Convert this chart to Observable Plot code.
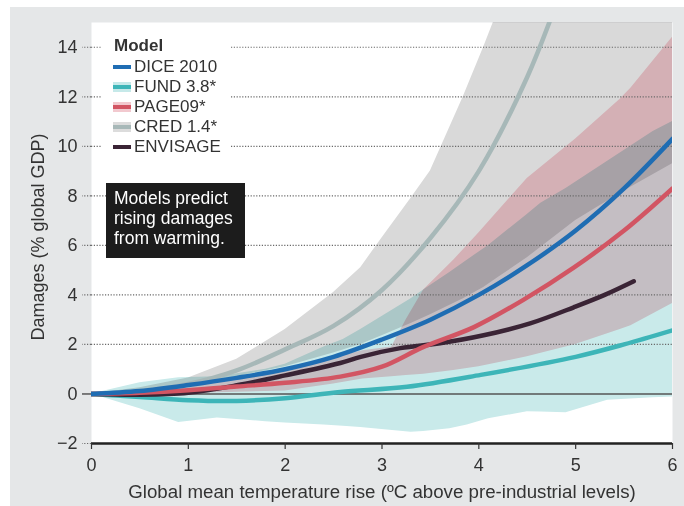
<!DOCTYPE html>
<html>
<head>
<meta charset="utf-8">
<script src="https://cdn.jsdelivr.net/npm/d3@7"></script>
<script src="https://cdn.jsdelivr.net/npm/@observablehq/plot@0.6"></script>
<style>
  html, body { margin: 0; padding: 0; background: #fff; }
  body { font-family: "Liberation Sans", Arial, sans-serif; color: #333; }
  #wrap { position: relative; width: 684px; height: 506px; overflow: hidden; }
  #bg { position: absolute; left: 10px; top: 7px; right: 0; bottom: 0; background: #e5e7e8; }
  #chart { position: absolute; left: 0; top: 0; }
  #legend { position: absolute; left: 102px; top: 33px; width: 129px; height: 127px; background: #fff; }
  .row { position: absolute; left: 0; height: 20px; line-height: 20px; font-size: 17px; white-space: nowrap; color: #333; }
  .row .lbl { position: absolute; left: 32px; top: 0; }
  .sw { position: absolute; left: 11px; top: 5px; width: 18px; height: 10px; }
  .sw .ln { position: absolute; left: 0; top: 3px; width: 18px; height: 4px; }
  #note { position: absolute; left: 106px; top: 183px; width: 139px; height: 75px; background: #1c1c1c;
          color: #fff; font-size: 17.5px; line-height: 20px; box-sizing: border-box; padding: 5px 0 0 8px; }
  #ylab { position: absolute; left: 38px; top: 237px; transform: translate(-50%, -50%) rotate(-90deg);
          font-size: 18px; white-space: nowrap; color: #333; }
  #xlab { position: absolute; left: 382px; top: 481px; transform: translateX(-50%);
          font-size: 18.7px; white-space: nowrap; color: #333; }
  svg g[aria-label="area"] { mix-blend-mode: multiply; }
</style>
</head>
<body>
<div id="wrap">
  <div id="bg"></div>
  <div id="chart"></div>
  <div id="legend"></div>
  <div id="note">Models predict<br>rising damages<br>from warming.</div>
  <div id="ylab">Damages (% global GDP)</div>
  <div id="xlab">Global mean temperature rise (ºC above pre-industrial levels)</div>
</div>
<script>
// ---- Data ----
const xTicks = [0, 1, 2, 3, 4, 5, 6];
const yTicksDotted = [-2, 2, 4, 6, 8, 10, 12, 14];
const gridTicks = [2, 4, 6, 8, 10, 12, 14];

// Uncertainty ranges
const credBandT  = [0, 0.5, 1, 1.5, 2, 2.5, 2.78, 3, 3.3, 3.5, 3.84, 4.05, 4.2, 4.5, 5, 5.5, 6];
const credBandLo = [0, 0.15, 0.35, 0.7, 1.1, 1.65, 2.0, 2.35, 2.85, 3.2, 3.85, 4.3, 4.7, 5.5, 7.0, 8.2, 9.3];
const credBandHi = [0, 0.25, 0.64, 1.4, 2.6, 4.1, 5.1, 6.3, 7.9, 9.0, 12, 14, 15.5, 18, 22, 26, 30];

const pageBandT  = [0, 1, 2, 2.5, 2.8, 3.1, 3.25, 3.43, 3.74, 4, 4.5, 5, 5.46, 5.57, 6];
const pageBandLo = [0, 0.02, 0.12, 0.4, 0.6, 0.7, 0.75, 0.8, 0.95, 1.1, 1.5, 2.0, 2.6, 2.75, 3.65];
const pageBandHi = [0, 0.3, 1.0, 1.45, 1.75, 1.9, 3.0, 4.2, 5.4, 6.5, 8.7, 10.3, 11.9, 12.35, 14.4];

const fundBandT  = [0, 0.5, 0.9, 1.3, 1.8, 2, 2.4, 2.6, 2.78, 3.3, 3.43, 3.7, 3.88, 4.1, 4.5, 4.64, 4.9, 5.33, 5.8, 6];
const fundBandLo = [0, -0.6, -1.15, -0.97, -1.12, -1.17, -1.25, -1.3, -1.35, -1.55, -1.52, -1.4, -1.25, -1.0, -0.72, -0.73, -0.76, -0.25, -0.15, -0.12];
const fundBandHi = [0, 0.45, 0.65, 0.7, 1.0, 1.2, 1.9, 2.2, 2.6, 3.85, 4.2, 4.9, 5.4, 6.0, 7.25, 7.7, 8.3, 9.4, 10.6, 11.0];

// Central estimates
const credT = [0, 0.5, 1, 1.5, 2, 2.5, 3, 3.5, 4, 4.5, 4.85];
const credV = [0, 0.1, 0.4, 0.95, 1.8, 2.75, 4.2, 6.3, 9.0, 12.8, 16.3];

const fundT = [0, 0.5, 1, 1.5, 2, 2.57, 3.26, 4.02, 5, 5.5, 6];
const fundV = [0, -0.12, -0.25, -0.28, -0.17, 0.08, 0.29, 0.77, 1.5, 2.0, 2.57];

const envT = [0, 0.5, 1, 1.5, 2, 2.57, 2.78, 3.19, 3.6, 4.05, 4.53, 4.98, 5.3, 5.6];
const envV = [0, -0.03, 0.05, 0.35, 0.75, 1.25, 1.5, 1.85, 2.05, 2.37, 2.85, 3.5, 4.0, 4.55];

const pageT = [0, 0.5, 1, 1.5, 2, 2.57, 3, 3.43, 3.95, 4.46, 4.98, 5.5, 6];
const pageV = [0, 0.05, 0.15, 0.3, 0.45, 0.7, 1.1, 1.9, 2.7, 3.8, 5.1, 6.6, 8.3];

const diceT = [0, 0.5, 1, 1.5, 2, 2.5, 3, 3.5, 4, 4.5, 5, 5.5, 6];
const diceV = [0, 0.12, 0.36, 0.65, 1.0, 1.5, 2.2, 3.0, 4.0, 5.2, 6.6, 8.3, 10.3];

const legendNames = ["DICE 2010", "FUND 3.8*", "PAGE09*", "CRED 1.4*", "ENVISAGE"];
const legendLine  = ["#1f6db3", "#3db5b8", "#d25563", "#a7b8b8", "#3a2435"];
const legendBand  = [null, "#c6e9e9", "#f2c9cf", "#dcdcdc", null];

const C = {dice: legendLine[0], fund: legendLine[1], page: legendLine[2], cred: legendLine[3], env: legendLine[4]};
const lineOpts = {strokeWidth: 4.5, strokeLinecap: "round", strokeLinejoin: "round", curve: "catmull-rom", clip: true};

const plot = Plot.plot({
  width: 684, height: 506,
  marginLeft: 91, marginRight: 12, marginTop: 22, marginBottom: 63,
  style: {background: "transparent", fontFamily: "'Liberation Sans', Arial, sans-serif", fontSize: "18px", color: "#333"},
  x: {domain: [0, 6]},
  y: {domain: [-2, 15]},
  marks: [
    Plot.frame({fill: "white", stroke: "none"}),
    Plot.areaY(credBandT, {x: credBandT, y1: credBandLo, y2: credBandHi, fill: "#d9d9d9", clip: true}),
    Plot.areaY(pageBandT, {x: pageBandT, y1: pageBandLo, y2: pageBandHi, fill: "#f9cfd5", clip: true}),
    Plot.areaY(fundBandT, {x: fundBandT, y1: fundBandLo, y2: fundBandHi, fill: "#c9eaea", clip: true}),
    Plot.ruleY(gridTicks, {stroke: "#6a6a6a", strokeDasharray: "1.2,1.6", strokeWidth: 1.2}),
    Plot.ruleY([0], {stroke: "#555", strokeWidth: 1.5}),
    Plot.line(credT, {x: credT, y: credV, stroke: C.cred, ...lineOpts}),
    Plot.line(fundT, {x: fundT, y: fundV, stroke: C.fund, ...lineOpts}),
    Plot.line(envT, {x: envT, y: envV, stroke: C.env, ...lineOpts}),
    Plot.line(pageT, {x: pageT, y: pageV, stroke: C.page, ...lineOpts}),
    Plot.line(diceT, {x: diceT, y: diceV, stroke: C.dice, ...lineOpts}),
    Plot.ruleY([-2], {stroke: "#222", strokeWidth: 2.5}),
    Plot.axisX({ticks: xTicks, tickSize: 6, tickPadding: 9, fontSize: 18, stroke: "#333", strokeWidth: 1.2, fill: "#333", label: null, tickFormat: d => String(d)}),
    Plot.axisY({ticks: yTicksDotted, tickSize: 9, tickPadding: 5, fontSize: 18, stroke: "#6a6a6a", strokeDasharray: "1.2,1.6", strokeWidth: 1.2, fill: "#333", label: null}),
    Plot.axisY({ticks: [0], tickSize: 9, tickPadding: 5, fontSize: 18, stroke: "#555", strokeWidth: 1.5, fill: "#333", label: null})
  ]
});
// multiply-blend the uncertainty ranges so overlaps darken as in the original
plot.querySelectorAll('g[aria-label="area"], g[aria-label="area"] path').forEach(el => { el.style.mixBlendMode = "multiply"; });
document.getElementById("chart").appendChild(plot);

// Legend (HTML)
const leg = document.getElementById("legend");
const title = document.createElement("div");
title.className = "row";
title.style.top = "3px";
title.style.left = "12px";
title.style.fontWeight = "bold";
title.textContent = "Model";
leg.appendChild(title);
legendNames.forEach((name, i) => {
  const row = document.createElement("div");
  row.className = "row";
  row.style.top = (24 + i * 20) + "px";
  const sw = document.createElement("div");
  sw.className = "sw";
  if (legendBand[i]) sw.style.background = legendBand[i];
  const ln = document.createElement("div");
  ln.className = "ln";
  ln.style.background = legendLine[i];
  sw.appendChild(ln);
  row.appendChild(sw);
  const lbl = document.createElement("span");
  lbl.className = "lbl";
  lbl.textContent = name;
  row.appendChild(lbl);
  leg.appendChild(row);
});
</script>
</body>
</html>
